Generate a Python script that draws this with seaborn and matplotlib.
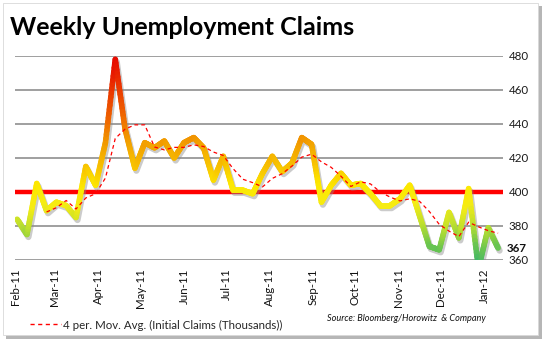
import numpy as np
import pandas as pd
import matplotlib
matplotlib.use("Agg")
import matplotlib.pyplot as plt
import matplotlib.dates as mdates
import matplotlib.transforms as mtransforms
from matplotlib.collections import LineCollection
from matplotlib.colors import LinearSegmentedColormap, Normalize
from matplotlib.patches import Rectangle
from matplotlib.lines import Line2D
import seaborn as sns

# Weekly initial jobless claims (thousands)
dates = pd.date_range("2011-02-02", periods=50, freq="7D")
claims = [384, 375, 405, 389, 394, 392, 385, 415, 404, 429,
          478, 437, 414, 429, 426, 430, 420, 429, 432, 426,
          407, 421, 401, 401, 399, 411, 421, 412, 417, 432,
          428, 394, 404, 411, 404, 405, 399, 392, 392, 396,
          404, 386, 368, 366, 388, 373, 402, 355, 379, 367]
threshold = 400
y_ticks = [360, 380, 400, 420, 440, 460, 480]
title = "Weekly Unemployment Claims"
ma_label = "4 per. Mov. Avg. (Initial Claims (Thousands))"
source = "Source: Bloomberg/Horowitz  & Company"

df = pd.DataFrame({"date": dates, "claims": claims})
df["ma4"] = df["claims"].rolling(4).mean()

sns.set_theme(style="white")
plt.rcParams["font.family"] = ["Lato", "DejaVu Sans"]

W, H = 546, 345
fig = plt.figure(figsize=(W / 100, H / 100), dpi=100)

def fx(px):
    return px / W

def fy(py):
    return 1 - py / H

# card with drop shadow
fig.patches.append(Rectangle((fx(6), fy(339)), fx(536), 333 / H,
                             transform=fig.transFigure, facecolor="#7a7a7a",
                             edgecolor="none", alpha=0.55, zorder=-2))
fig.patches.append(Rectangle((fx(3), fy(335)), fx(535), 332 / H,
                             transform=fig.transFigure, facecolor="white",
                             edgecolor="#d8d8d8", lw=0.6, zorder=-1))

ax = fig.add_axes([fx(15), fy(260), fx(503 - 15), (260 - 56) / H])
ax.set_zorder(2)
ax.set_facecolor("none")

# gridlines and 400 threshold
for v in y_ticks:
    ax.axhline(v, color="#858585", lw=1.1, zorder=1)
ax.axhline(threshold, color="#ff0000", lw=3.2, zorder=2)

# soft shadow under the claims line
sns.lineplot(data=df, x="date", y="claims", ax=ax, color="#8c8c8c",
             lw=4.5, alpha=0.45, zorder=3, legend=False)
shadow = ax.lines[-1]
shadow.set_transform(mtransforms.offset_copy(ax.transData, fig=fig,
                                             x=1.5, y=-2.5, units="dots"))
shadow.set_solid_joinstyle("round")

# claims line coloured by level (green -> yellow -> orange -> red)
stops = [(355, "#35b171"), (368, "#6cc64e"), (380, "#bfe02e"),
         (392, "#f6ec14"), (404, "#fde800"), (415, "#f8c300"),
         (428, "#f2a100"), (445, "#ee6200"), (478, "#e60800")]
lo, hi = stops[0][0], stops[-1][0]
cmap = LinearSegmentedColormap.from_list(
    "claims", [((v - lo) / (hi - lo), c) for v, c in stops])
norm = Normalize(lo, hi)

xn = mdates.date2num(df["date"])
yv = df["claims"].to_numpy(dtype=float)
segs, cols = [], []
n_sub = 20
for i in range(len(xn) - 1):
    t = np.linspace(0, 1, n_sub + 1)
    xs = xn[i] + (xn[i + 1] - xn[i]) * t
    ys = yv[i] + (yv[i + 1] - yv[i]) * t
    for k in range(n_sub):
        segs.append([(xs[k], ys[k]), (xs[k + 1], ys[k + 1])])
        cols.append(cmap(norm((ys[k] + ys[k + 1]) / 2)))
lc = LineCollection(segs, colors=cols, linewidths=4, capstyle="round",
                    joinstyle="round", zorder=4)
ax.add_collection(lc)

# 4-period moving average
sns.lineplot(data=df, x="date", y="ma4", ax=ax, color="#ff0000", lw=0.9,
             zorder=5, legend=False)
ax.lines[-1].set_dashes([3, 2.5])

ax.set_ylim(360, 480)
ax.set_xlim(dates[0] - pd.Timedelta(hours=36), dates[-1] + pd.Timedelta(days=3.5))
ax.set_xlabel("")
ax.set_ylabel("")
for s in ax.spines.values():
    s.set_visible(False)

ax.yaxis.tick_right()
ax.set_yticks(y_ticks)
ax.set_yticklabels([str(v) for v in y_ticks])
ax.tick_params(axis="y", length=0, pad=4, labelsize=8.3, labelcolor="#1a1a1a")

ax.xaxis.set_major_locator(mdates.MonthLocator())
ax.xaxis.set_major_formatter(mdates.DateFormatter("%b-%y"))
ax.tick_params(axis="x", length=0, pad=6, labelsize=8.3, labelcolor="#111111",
               labelrotation=90)

# value label for the latest week
ax.annotate(str(claims[-1]), xy=(dates[-1], claims[-1]), xytext=(6, 0),
            textcoords="offset points", va="center", ha="left",
            fontsize=8.3, fontweight="bold", color="#111111")

fig.text(fx(10), fy(35), title, fontsize=18, fontweight="bold",
         color="black", ha="left", va="baseline")

handle = Line2D([], [], color="#ff0000", lw=1, dashes=[3, 2.5])
fig.legend([handle], [ma_label], loc="center left",
           bbox_to_anchor=(fx(30), fy(325)), frameon=False, fontsize=8.3,
           handlelength=2.7, handletextpad=0.2, borderpad=0, borderaxespad=0)

fig.text(fx(327), fy(321), source, fontsize=6.6, style="italic",
         color="#111111", ha="left", va="baseline")

fig.savefig("out.png", dpi=100)
